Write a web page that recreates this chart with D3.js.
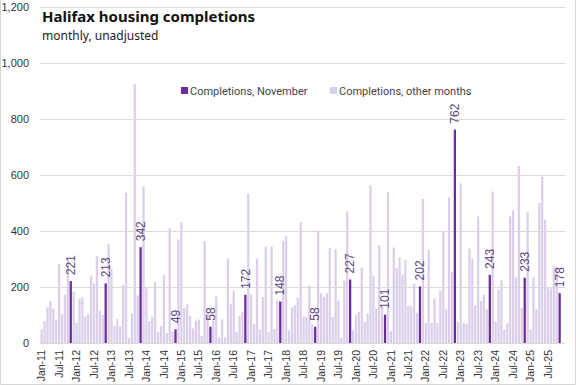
<!DOCTYPE html>
<html>
<head>
<meta charset="utf-8">
<script src="https://cdn.jsdelivr.net/npm/d3@7"></script>
<style>
  body { margin: 0; background: #fff; }
  svg { display: block; }
  .tick text { fill: #333; }
</style>
</head>
<body>
<svg width="576" height="385"></svg>
<script>
// monthly completions, Jan-11 .. Nov-25 (one row per year)
var completions = [
  48, 78, 127, 150, 122, 84, 283, 104, 173, 295, 221, 184,   // 2011
  72, 158, 163, 95, 103, 241, 212, 310, 115, 100, 213, 355,  // 2012
  265, 62, 86, 59, 208, 536, 17, 105, 926, 170, 342, 560,    // 2013
  195, 78, 94, 218, 40, 60, 242, 36, 410, 42, 49, 370,       // 2014
  432, 125, 138, 98, 52, 80, 84, 25, 364, 110, 58, 80,       // 2015
  166, 20, 85, 20, 302, 138, 187, 39, 96, 110, 172, 533,     // 2016
  173, 68, 301, 47, 164, 343, 38, 345, 50, 150, 148, 365,    // 2017
  381, 45, 128, 135, 162, 432, 94, 94, 205, 66, 58, 401,     // 2018
  177, 165, 177, 340, 93, 335, 151, 20, 223, 470, 227, 45,   // 2019
  100, 110, 270, 75, 105, 563, 241, 122, 350, 128, 101, 538, // 2020
  42, 341, 269, 305, 245, 297, 132, 132, 212, 108, 202, 514, // 2021
  71, 333, 72, 158, 72, 187, 397, 120, 520, 254, 762, 75,    // 2022
  570, 72, 68, 337, 301, 135, 452, 150, 172, 120, 243, 541,  // 2023
  76, 190, 225, 48, 70, 452, 473, 234, 632, 125, 233, 467,   // 2024
  49, 234, 120, 500, 593, 441, 199, 195, 274, 270, 178       // 2025
];

var yTicks = [0, 200, 400, 600, 800, 1000, 1200];
var legendLabels = ["Completions, November", "Completions, other months"];

var fmtMonth = d3.timeFormat("%b-%y");
var months = completions.map(function(d, i) { return new Date(2011, i, 1); });
var xTickLabels = months.filter(function(d) { return d.getMonth() % 6 === 0; }).map(fmtMonth);

var data = completions.map(function(v, i) {
  return {month: fmtMonth(months[i]), value: v, nov: months[i].getMonth() === 10};
});

var svg = d3.select("svg"),
    width = +svg.attr("width"),
    height = +svg.attr("height");

var novColor = "#6a2d9c",
    otherColor = "#dccfea";

var x = d3.scaleBand()
    .domain(data.map(function(d) { return d.month; }))
    .range([40.2, 561.1])
    .paddingInner(0.22)
    .paddingOuter(0.11);

var y = d3.scaleLinear()
    .domain([0, 1200])
    .range([343, 7]);

// frame
svg.append("path")
    .attr("d", "M0.5,0V384.5H575.5V0")
    .attr("fill", "none")
    .attr("stroke", "#d6d6d6");

// gridlines
svg.append("g")
  .selectAll("line")
  .data(yTicks)
  .enter().append("line")
    .attr("x1", 40).attr("x2", 565)
    .attr("y1", function(d) { return Math.round(y(d)) + 0.5; })
    .attr("y2", function(d) { return Math.round(y(d)) + 0.5; })
    .attr("stroke", "#d9d9d9");

var yAxis = svg.append("g")
    .attr("transform", "translate(40,0)")
    .call(d3.axisLeft(y).tickValues(yTicks).tickFormat(d3.format(",")).tickSize(0).tickPadding(11));
yAxis.select(".domain").remove();
yAxis.selectAll("text")
    .style("font-family", "'Liberation Sans', Arial, sans-serif")
    .style("font-size", "11px");

var xAxis = svg.append("g")
    .attr("transform", "translate(0,343)")
    .call(d3.axisBottom(x).tickValues(xTickLabels).tickSize(0).tickPadding(0));
xAxis.select(".domain").remove();
xAxis.selectAll("text")
    .style("font-family", "'Liberation Sans', Arial, sans-serif")
    .style("font-size", "10.5px")
    .attr("text-anchor", "end")
    .attr("dy", "0.35em")
    .attr("dx", 0)
    .attr("y", 0)
    .attr("transform", "translate(0,7) rotate(-90)");

// bars
svg.append("g")
  .selectAll("rect")
  .data(data)
  .enter().append("rect")
    .attr("x", function(d) { return x(d.month); })
    .attr("width", x.bandwidth())
    .attr("y", function(d) { return y(d.value); })
    .attr("height", function(d) { return y(0) - y(d.value); })
    .attr("fill", function(d) { return d.nov ? novColor : otherColor; });

// November value labels
svg.append("g")
  .selectAll("text")
  .data(data.filter(function(d) { return d.nov; }))
  .enter().append("text")
    .attr("transform", function(d) {
      return "translate(" + (x(d.month) + x.bandwidth() / 2) + "," + (y(d.value) - 6) + ") rotate(-90)";
    })
    .attr("dy", "0.35em")
    .style("font-family", "'Liberation Sans', Arial, sans-serif")
    .style("font-size", "12px")
    .attr("fill", "#5b4a80")
    .text(function(d) { return d.value; });

// title
svg.append("text")
    .attr("x", 42).attr("y", 22)
    .style("font-family", "'Noto Sans', sans-serif")
    .style("font-weight", "bold")
    .style("font-size", "15px")
    .attr("fill", "#111")
    .text("Halifax housing completions");

svg.append("text")
    .attr("x", 42).attr("y", 40)
    .style("font-family", "'Noto Sans', sans-serif")
    .style("font-size", "12px")
    .attr("fill", "#222")
    .text("monthly, unadjusted");

// legend
var legend = svg.append("g")
  .selectAll("g")
  .data(legendLabels)
  .enter().append("g")
    .attr("transform", function(d, i) { return "translate(" + (i ? 330 : 181) + ",91)"; });

legend.append("rect")
    .attr("x", 0).attr("y", -4)
    .attr("width", 7).attr("height", 7)
    .attr("fill", function(d, i) { return i ? otherColor : novColor; });

legend.append("text")
    .attr("x", 9).attr("dy", "0.35em")
    .style("font-family", "Roboto, sans-serif")
    .style("font-size", "11px")
    .attr("fill", "#444")
    .text(function(d) { return d; });
</script>
</body>
</html>
